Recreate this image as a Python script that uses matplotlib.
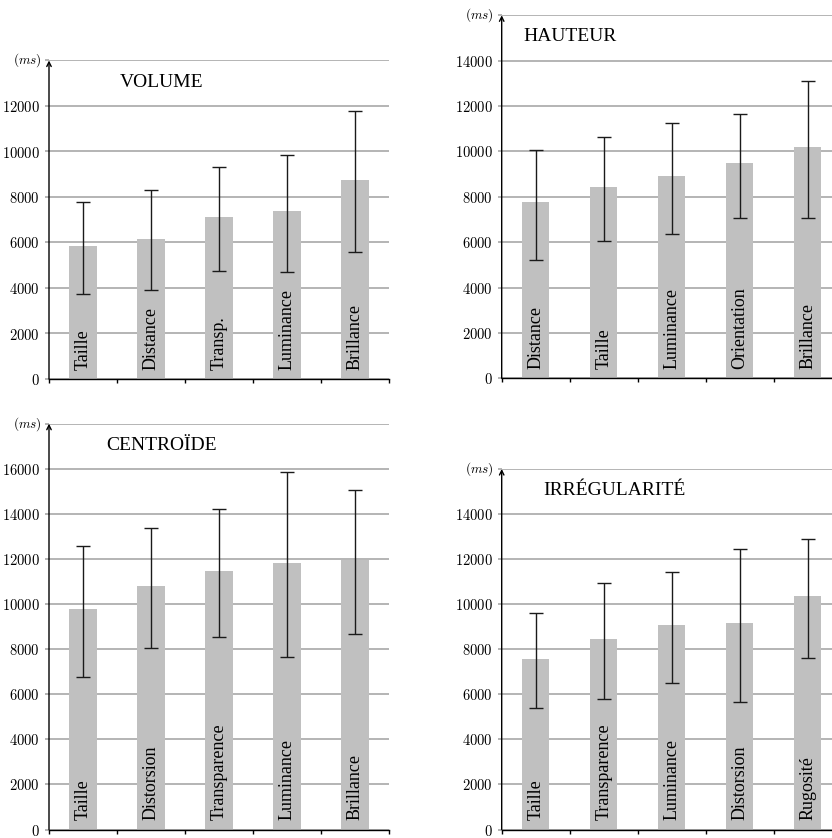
import numpy as np
import matplotlib
matplotlib.use('Agg')
import matplotlib.pyplot as plt
from matplotlib.ticker import FuncFormatter

plt.rcParams['mathtext.fontset'] = 'cm'

# mean response time per condition, and low / high ends of the error bars (ms)
volume_cats = ['Taille', 'Distance', 'Transp.', 'Luminance', 'Brillance']
volume_mean = [5840, 6150, 7100, 7370, 8760]
volume_lo = [3720, 3930, 4750, 4720, 5580]
volume_hi = [7790, 8320, 9300, 9830, 11790]

hauteur_cats = ['Distance', 'Taille', 'Luminance', 'Orientation', 'Brillance']
hauteur_mean = [7760, 8420, 8920, 9480, 10180]
hauteur_lo = [5210, 6050, 6360, 7080, 7080]
hauteur_hi = [10080, 10620, 11270, 11660, 13090]

centroide_cats = ['Taille', 'Distorsion', 'Transparence', 'Luminance', 'Brillance']
centroide_mean = [9780, 10790, 11460, 11830, 11950]
centroide_lo = [6780, 8030, 8530, 7650, 8660]
centroide_hi = [12580, 13390, 14220, 15840, 15060]

irreg_cats = ['Taille', 'Transparence', 'Luminance', 'Distorsion', 'Rugosité']
irreg_mean = [7580, 8460, 9060, 9150, 10360]
irreg_lo = [5380, 5790, 6490, 5640, 7600]
irreg_hi = [9590, 10960, 11430, 12460, 12900]

W, H = 832, 838
fig = plt.figure(figsize=(W / 100, H / 100), dpi=100)

# (left, bottom, width, height) in pixels from top-left, title x position, ymax
panels = [
    ('VOLUME', volume_cats, volume_mean, volume_lo, volume_hi, (49, 379, 340, 318.5), 0.331, 14000),
    ('HAUTEUR', hauteur_cats, hauteur_mean, hauteur_lo, hauteur_hi, (501.7, 378.3, 340, 363), 0.20, 16000),
    ('CENTROÏDE', centroide_cats, centroide_mean, centroide_lo, centroide_hi, (49, 829.5, 340, 405.8), 0.331, 18000),
    ('IRRÉGULARITÉ', irreg_cats, irreg_mean, irreg_lo, irreg_hi, (501.7, 829.5, 340, 360.5), 0.333, 16000),
]

grid_col = '#a8a8a8'
bar_col = '#c0c0c0'

for title, cats, mean, lo, hi, (px, py, pw, ph), tx, ymax in panels:
    ax = fig.add_axes([px / W, (H - py) / H, pw / W, ph / H])
    x = np.arange(len(cats))
    mean = np.array(mean)
    yerr = [mean - np.array(lo), np.array(hi) - mean]
    ax.bar(x, mean, width=0.4, color=bar_col, zorder=2)
    ax.errorbar(x, mean, yerr=yerr, fmt='none', ecolor='#1a1a1a', elinewidth=1.0,
                capsize=4.7, capthick=1.0, zorder=3)

    ax.set_xlim(-0.5, len(cats) - 0.5)
    ax.set_ylim(0, ymax)
    ax.set_xticks(np.arange(len(cats) + 1) - 0.5)
    ax.set_xticklabels([])
    ticks = np.arange(0, ymax + 1, 2000)
    ax.set_yticks(ticks)
    ax.yaxis.set_major_formatter(FuncFormatter(lambda v, p, m=ymax: '' if v >= m else '$%d$' % v))
    ax.grid(axis='y', color=grid_col, lw=1.2, zorder=0)
    ax.set_axisbelow(True)

    for s in ['top', 'right', 'left']:
        ax.spines[s].set_visible(False)
    ax.spines['bottom'].set_color('black')
    ax.spines['bottom'].set_linewidth(1.0)
    ax.spines['bottom'].set_zorder(4)
    ax.tick_params(axis='x', direction='out', length=3, color='black', width=1)
    ax.tick_params(axis='y', direction='out', length=3, color=grid_col, width=1.2,
                   labelsize=10.5, pad=3.5)

    ax.annotate('', xy=(0, 1), xytext=(0, 0), xycoords='axes fraction',
                arrowprops=dict(arrowstyle='->', lw=1.0, color='black',
                                shrinkA=0, shrinkB=0, mutation_scale=8), zorder=5)
    ax.text(-0.022, 1.0, r'$(ms)$', transform=ax.transAxes, ha='right', va='center',
            fontsize=9.5)
    ax.text(tx, 1 - 0.068 * 318.5 / ph, title, transform=ax.transAxes, ha='center',
            va='center', fontsize=14, family='Liberation Serif')

    for xi, c in zip(x, cats):
        ax.text(xi, 400, c, rotation=90, ha='center', va='bottom', fontsize=13,
                family='Liberation Serif', zorder=4)

fig.savefig('out.png', dpi=100)
